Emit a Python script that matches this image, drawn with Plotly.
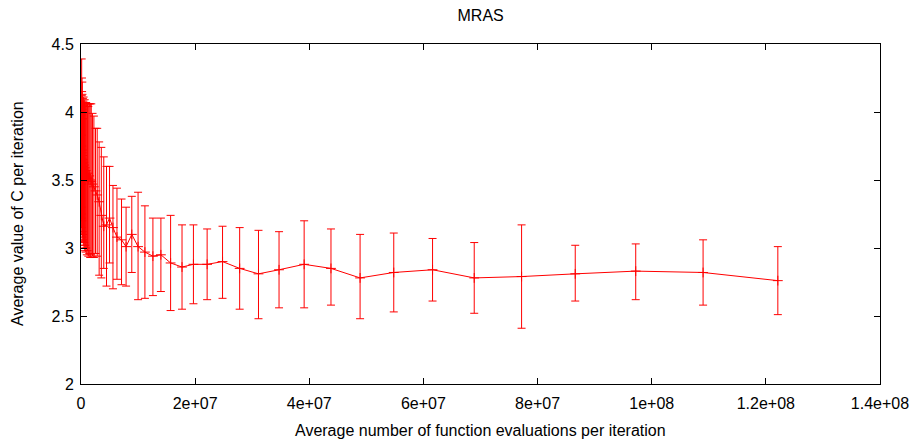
import plotly.graph_objects as go

# Average number of function evaluations per iteration
evals = [
    0.10e6, 0.12e6, 0.13e6, 0.15e6, 0.17e6, 0.19e6, 0.21e6, 0.23e6, 0.26e6, 0.29e6,
    0.33e6, 0.37e6, 0.41e6, 0.46e6, 0.52e6, 0.58e6, 0.65e6, 0.73e6, 0.82e6, 0.91e6,
    1.02e6, 1.15e6, 1.28e6, 1.44e6, 1.61e6, 1.80e6, 2.02e6, 2.26e6, 2.54e6, 2.84e6,
    3.18e6, 3.56e6, 3.99e6, 4.47e6, 5.0e6, 5.6e6, 6.3e6, 7.1e6, 7.9e6, 8.9e6,
    10.0e6, 11.2e6, 12.6e6, 14.0e6, 15.7e6, 17.7e6, 19.7e6, 22.1e6, 24.8e6, 27.8e6,
    31.1e6, 34.7e6, 39.1e6, 43.8e6, 48.9e6, 54.8e6, 61.6e6, 68.9e6, 77.2e6, 86.6e6,
    97.2e6, 109.0e6, 122.1e6,
]
# Average value of C
mean_c = [
    3.62, 3.70, 3.66, 3.58, 3.72, 3.64, 3.60, 3.68, 3.62, 3.57,
    3.65, 3.60, 3.63, 3.58, 3.61, 3.56, 3.59, 3.55, 3.57, 3.54,
    3.52, 3.55, 3.51, 3.53, 3.50, 3.49, 3.47, 3.45, 3.42, 3.39,
    3.34, 3.24, 3.16, 3.17, 3.22, 3.15, 3.08, 3.06, 3.01, 3.10,
    3.01, 2.97, 2.94, 2.95, 2.89, 2.86, 2.88, 2.88, 2.90, 2.85,
    2.81, 2.84, 2.88, 2.85, 2.78, 2.82, 2.84, 2.78, 2.79, 2.81,
    2.83, 2.82, 2.76,
]
low_c = [
    3.30, 3.15, 3.22, 3.10, 3.25, 3.05, 3.47, 3.20, 3.08, 3.12,
    3.05, 3.10, 3.02, 3.06, 3.00, 3.04, 2.98, 3.02, 2.97, 3.00,
    2.95, 2.98, 2.94, 2.96, 2.93, 2.95, 2.94, 2.93, 2.96, 2.94,
    2.80, 2.78, 2.85, 2.72, 2.89, 2.70, 2.77, 2.73, 2.72, 2.82,
    2.62, 2.63, 2.65, 2.68, 2.54, 2.55, 2.59, 2.62, 2.63, 2.55,
    2.48, 2.56, 2.56, 2.58, 2.48, 2.53, 2.61, 2.52, 2.41, 2.61,
    2.62, 2.58, 2.51,
]
high_c = [
    3.98, 4.39, 4.12, 3.83, 4.25, 4.15, 3.75, 4.22, 4.13, 4.02,
    4.10, 3.95, 4.08, 4.11, 4.05, 4.07, 4.09, 4.06, 4.04, 4.07,
    4.05, 4.06, 4.04, 4.06, 4.06, 4.06, 3.99, 3.97, 3.88, 3.88,
    3.78, 3.74, 3.67, 3.60, 3.60, 3.46, 3.44, 3.36, 3.30, 3.38,
    3.41, 3.31, 3.22, 3.22, 3.24, 3.17, 3.17, 3.14, 3.16, 3.15,
    3.13, 3.12, 3.20, 3.14, 3.10, 3.11, 3.07, 3.04, 3.17, 3.02,
    3.03, 3.06, 3.01,
]

x_tick_vals = [0, 2e7, 4e7, 6e7, 8e7, 1e8, 1.2e8, 1.4e8]
x_tick_text = ["0", "2e+07", "4e+07", "6e+07", "8e+07", "1e+08", "1.2e+08", "1.4e+08"]
y_tick_vals = [2, 2.5, 3, 3.5, 4, 4.5]
y_tick_text = ["2", "2.5", "3", "3.5", "4", "4.5"]

err_plus = [h - m for h, m in zip(high_c, mean_c)]
err_minus = [m - l for m, l in zip(mean_c, low_c)]

FONT = "Liberation Sans, Arial, sans-serif"
FS = 16

fig = go.Figure()
fig.add_trace(go.Scatter(
    x=evals, y=mean_c,
    mode="lines+markers",
    line=dict(color="red", width=1),
    marker=dict(symbol="cross-thin", size=7, color="red",
                line=dict(color="red", width=1)),
    error_y=dict(type="data", array=err_plus, arrayminus=err_minus,
                 visible=True, color="red", thickness=1, width=4),
    showlegend=False,
))

axis_common = dict(
    showline=True, linecolor="black", linewidth=1, mirror="ticks",
    ticks="inside", ticklen=6, tickcolor="black", tickwidth=1,
    showgrid=False, zeroline=False,
    tickfont=dict(family=FONT, size=FS, color="black"),
    automargin=False,
)

fig.update_layout(
    width=912, height=442,
    margin=dict(l=81, r=32, t=44, b=58),
    paper_bgcolor="white", plot_bgcolor="white",
    title=dict(text="MRAS", x=0.527, xanchor="center", y=0.966, yanchor="middle",
               font=dict(family=FONT, size=FS, color="black")),
    xaxis=dict(range=[0, 1.4e8], tickmode="array", tickvals=x_tick_vals,
               ticktext=x_tick_text, ticklabelstandoff=5, **axis_common),
    yaxis=dict(range=[2, 4.5], tickmode="array", tickvals=y_tick_vals,
               ticktext=y_tick_text, ticklabelstandoff=3, **axis_common),
    annotations=[
        dict(text="Average number of function evaluations per iteration",
             xref="paper", yref="paper", x=0.5, y=-0.1382,
             xanchor="center", yanchor="middle", showarrow=False,
             font=dict(family=FONT, size=FS, color="black")),
        dict(text="Average value of C per iteration",
             xref="paper", yref="paper", x=-0.0801, y=0.5, textangle=-90,
             xanchor="center", yanchor="middle", showarrow=False,
             font=dict(family=FONT, size=FS, color="black")),
    ],
)

fig.write_html("out.html")
